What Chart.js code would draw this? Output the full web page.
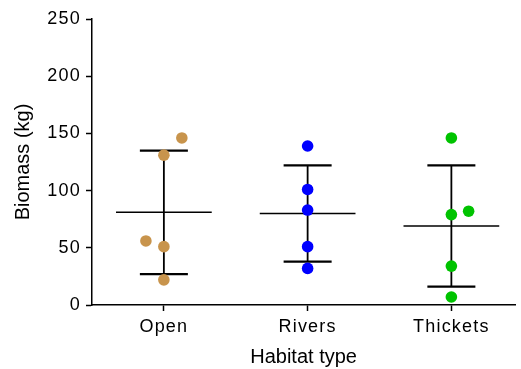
<!DOCTYPE html>
<html>
<head>
<meta charset="utf-8">
<script src="https://cdn.jsdelivr.net/npm/chart.js@4.4.0/dist/chart.umd.min.js"></script>
<style>
  html, body { margin: 0; padding: 0; background: #fff; }
  #wrap { width: 521px; height: 369px; }
</style>
</head>
<body>
<div id="wrap"><canvas id="graf"></canvas></div>
<script>
let habitats = ["Open", "Rivers", "Thickets"];
let habitatColor = ["#C8944C", "#0000FF", "#00C300"];

// biomass of each sample, per habitat
let openVals = [146, 131, 56, 51, 22];
let riversVals = [139, 101, 83, 51, 32];
let thicketsVals = [146, 79, 82, 34, 7];

// small sideways shift so overlapping points stay visible
let openJitter = [0.125, 0, -0.125, 0, 0];
let riversJitter = [0, 0, 0, 0, 0];
let thicketsJitter = [0, 0, 0.12, 0, 0];

// mean and standard deviation per habitat
let means = [81, 80, 69];
let sds = [54, 42, 53];

let yTicks = [0, 50, 100, 150, 200, 250];

let groups = [
    { vals: openVals, jit: openJitter },
    { vals: riversVals, jit: riversJitter },
    { vals: thicketsVals, jit: thicketsJitter }
];

let datasets = [];

for (let g = 0; g < groups.length; g++) {
    let pts = [];
    for (let i = 0; i < groups[g].vals.length; i++) {
        pts.push({ x: g + 1 + groups[g].jit[i], y: groups[g].vals[i] });
    }
    datasets.push({
        label: habitats[g],
        data: pts,
        backgroundColor: habitatColor[g],
        borderColor: habitatColor[g],
        pointRadius: 5.8,
        pointHoverRadius: 5.8,
        borderWidth: 0,
        showLine: false,
        order: 0
    });
}

function segment(a, b, w) {
    datasets.push({
        data: [a, b],
        showLine: true,
        borderColor: "#000",
        borderWidth: w,
        pointRadius: 0,
        fill: false,
        order: 1
    });
}

for (let g = 0; g < means.length; g++) {
    let c = g + 1;
    let hi = means[g] + sds[g];
    let lo = means[g] - sds[g];
    segment({ x: c - 0.333, y: means[g] }, { x: c + 0.333, y: means[g] }, 1.5);
    segment({ x: c - 0.167, y: hi }, { x: c + 0.167, y: hi }, 2.2);
    segment({ x: c - 0.167, y: lo }, { x: c + 0.167, y: lo }, 2.2);
    segment({ x: c, y: lo }, { x: c, y: hi }, 1.8);
}

// tick labels in the original are a bit spread out
const spacing = {
    id: "spacing",
    beforeDraw(chart) { chart.ctx.letterSpacing = "0px"; },
    afterDatasetsDraw(chart) { chart.ctx.letterSpacing = "1.2px"; },
    afterDraw(chart) { chart.ctx.letterSpacing = "0px"; }
};

Chart.defaults.font.family = "'Liberation Sans', Arial, sans-serif";
Chart.defaults.color = "#000";

new Chart(document.getElementById("graf"), {
    type: "scatter",
    data: { datasets: datasets },
    plugins: [spacing],
    options: {
        responsive: true,
        maintainAspectRatio: false,
        animation: false,
        layout: { padding: { top: 19, right: 1, left: 0, bottom: 0 } },
        plugins: {
            legend: { display: false },
            tooltip: { enabled: false }
        },
        scales: {
            x: {
                type: "linear",
                min: 0.5,
                max: 3.444,
                afterBuildTicks: (axis) => {
                    axis.ticks = habitats.map((h, i) => ({ value: i + 1 }));
                },
                afterFit: (axis) => {
                    axis.height = 64;
                    axis.paddingLeft = 0;
                    axis.paddingRight = 0;
                },
                ticks: {
                    callback: (v) => habitats[Math.round(v) - 1],
                    font: { size: 18 },
                    padding: 5,
                    maxRotation: 0,
                    z: 1
                },
                grid: {
                    drawOnChartArea: false,
                    color: "#000",
                    tickLength: 6,
                    tickWidth: 1.5
                },
                border: { color: "#000", width: 1.5 },
                title: {
                    display: true,
                    text: "Habitat type",
                    font: { size: 20 },
                    padding: { top: 0, bottom: 0 }
                }
            },
            y: {
                min: 0,
                max: 250,
                afterBuildTicks: (axis) => {
                    axis.ticks = yTicks.map((v) => ({ value: v }));
                },
                afterFit: (axis) => {
                    axis.width = 92;
                    axis.paddingTop = 0;
                    axis.paddingBottom = 0;
                },
                ticks: {
                    font: { size: 18 },
                    padding: 5,
                    z: 1
                },
                grid: {
                    drawOnChartArea: false,
                    color: "#000",
                    tickLength: 6,
                    tickWidth: 1.5
                },
                border: { color: "#000", width: 1.5 },
                title: {
                    display: true,
                    text: "Biomass (kg)",
                    font: { size: 20 },
                    padding: { top: 11, bottom: 0 }
                }
            }
        }
    }
});
</script>
</body>
</html>
